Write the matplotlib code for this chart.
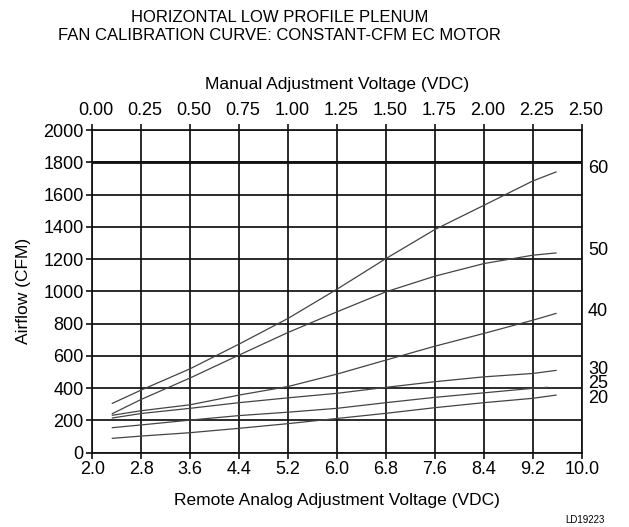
import numpy as np
import matplotlib.pyplot as plt
import matplotlib.transforms as mtransforms

plt.rcParams['font.family'] = ['Liberation Sans', 'DejaVu Sans']

# Remote analog voltage (VDC) where the curves were read
volts = [2.33, 2.8, 3.6, 4.4, 5.2, 6.0, 6.8, 7.6, 8.4, 9.2, 9.58]
volts_25 = [2.33, 2.8, 3.6, 4.4, 5.2, 6.0, 6.8, 7.6, 8.4, 9.2, 9.44]

# Airflow (CFM) for each setting
cfm_60 = [306, 388, 520, 673, 832, 1013, 1203, 1383, 1533, 1684, 1740]
cfm_50 = [242, 330, 463, 605, 745, 873, 997, 1094, 1172, 1224, 1238]
cfm_40 = [232, 260, 297, 357, 410, 487, 574, 660, 739, 821, 863]
cfm_30 = [215, 243, 275, 310, 340, 368, 405, 440, 470, 491, 510]
cfm_25 = [155, 172, 202, 230, 251, 275, 310, 343, 371, 399, 405]
cfm_20 = [89, 103, 124, 151, 180, 212, 244, 279, 310, 337, 357]

# right-hand labels; the three low ones sit in a tight stack
curve_labels = ['60', '50', '40']
label_y = [1762, 1253, 873]
stack_labels = ['30', '25', '20']
stack_y = 428

bottom_ticks = [2.0, 2.8, 3.6, 4.4, 5.2, 6.0, 6.8, 7.6, 8.4, 9.2, 10.0]
top_ticks = [0.00, 0.25, 0.50, 0.75, 1.00, 1.25, 1.50, 1.75, 2.00, 2.25, 2.50]
y_ticks = list(range(0, 2001, 200))

fig = plt.figure(figsize=(6.29, 5.27), dpi=100)
ax = fig.add_axes([0.1465, 0.141, 0.7783, 0.6123])

ax.set_xlim(2.0, 10.0)
ax.set_ylim(0, 2000)
ax.set_xticks(bottom_ticks)
ax.set_xticklabels([f"{t:.1f}" for t in bottom_ticks])
ax.set_yticks(y_ticks)

ax.grid(True, color='#111111', linewidth=1.25)
ax.axhline(1800, color='#111111', linewidth=2.0, zorder=1)
for s in ax.spines.values():
    s.set_color('#111111')
    s.set_linewidth(1.25)

line_kw = dict(color='#444444', linewidth=0.9, zorder=3)
ax.plot(volts, cfm_60, **line_kw)
ax.plot(volts, cfm_50, **line_kw)
ax.plot(volts, cfm_40, **line_kw)
ax.plot(volts, cfm_30, **line_kw)
ax.plot(volts_25, cfm_25, **line_kw)
ax.plot(volts, cfm_20, **line_kw)

trans = ax.get_yaxis_transform()
for lab, yv in zip(curve_labels, label_y):
    ax.text(1.013, yv, lab, transform=trans, va='center', ha='left', fontsize=13)
ax.text(1.013, stack_y, '\n'.join(stack_labels), transform=trans, va='center', ha='left',
        fontsize=13, linespacing=0.8)

ax.tick_params(axis='both', direction='out', length=4, width=1.2, color='#111111',
               labelsize=13, pad=2)
ax.set_xlabel('Remote Analog Adjustment Voltage (VDC)', fontsize=12.5, labelpad=11)
ax.set_ylabel('Airflow (CFM)', fontsize=12.5, labelpad=9)

# top axis: manual adjustment voltage, same grid positions
top = ax.secondary_xaxis('top', functions=(lambda v: (v - 2.0) / 3.2, lambda m: m * 3.2 + 2.0))
top.set_xticks(top_ticks)
top.set_xticklabels([f"{t:.2f}" for t in top_ticks])
top.tick_params(direction='out', length=4, width=1.2, color='#111111', labelsize=13, pad=4)
top.spines['top'].set_visible(False)
offset = mtransforms.ScaledTranslation(4 / 100, 0, fig.dpi_scale_trans)
for lbl in top.get_xticklabels():
    lbl.set_transform(lbl.get_transform() + offset)
top.set_xlabel('Manual Adjustment Voltage (VDC)', fontsize=12.5, labelpad=9)

fig.text(0.445, 1 - 17 / 527, 'HORIZONTAL LOW PROFILE PLENUM', ha='center', va='center', fontsize=12)
fig.text(0.445, 1 - 36 / 527, 'FAN CALIBRATION CURVE: CONSTANT-CFM EC MOTOR', ha='center', va='center',
         fontsize=12)
fig.text(585 / 629, 1 - 520 / 527, 'LD19223', ha='center', va='center', fontsize=7)

fig.savefig('out.png', dpi=100)
